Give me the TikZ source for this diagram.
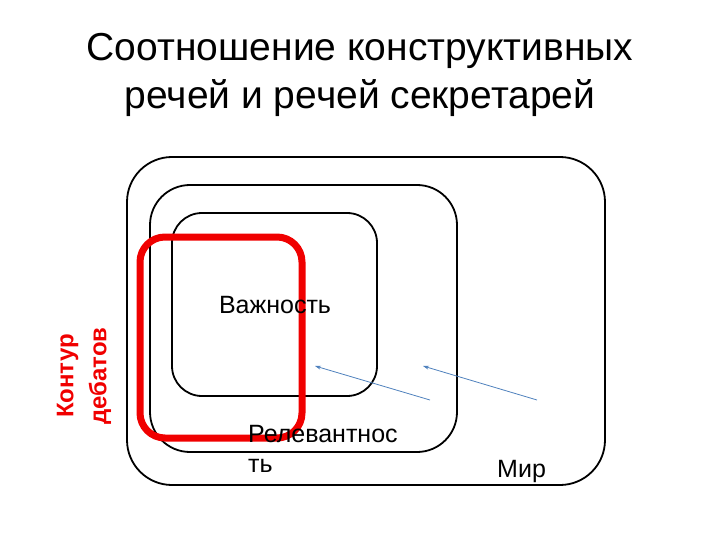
\documentclass[tikz,border=0pt]{standalone}
\usepackage{fontspec}
\setmainfont{Liberation Sans}
\usetikzlibrary{arrows.meta}
\begin{document}
\begin{tikzpicture}[x=1pt,y=-1pt,
  box/.style={draw=black, line width=1.8pt},
  arr/.style={draw={rgb,255:red,79;green,129;blue,189}, line width=0.8pt, -{Stealth[length=6pt,width=4pt]}},
  lbl/.style={font=\fontsize{25}{30}\selectfont, inner sep=0pt}]
\useasboundingbox (0,0) rectangle (720,540);
\node[font=\fontsize{39}{48}\selectfont, align=center] (title) at (360,75) {Соотношение конструктивных\\речей и речей секретарей};
\draw[box, rounded corners=45pt] (127,157) rectangle (605,485);
\draw[box, rounded corners=40pt] (150,185) rectangle (457,452);
\draw[box, rounded corners=30pt] (172,213) rectangle (377,396);
\draw[draw={rgb,255:red,240;green,0;blue,0}, line width=7pt, rounded corners=25pt] (140,237) rectangle (302,438);
\node[lbl] (imp) at (275,305) {Важность};
\node[lbl, anchor=base west, align=left] (rel) at (248,472) {Релевантнос\\ть};
\node[lbl, anchor=base west] (world) at (497,477) {Мир};
\node[font=\bfseries\fontsize{24}{33}\selectfont, text={rgb,255:red,240;green,0;blue,0}, rotate=90, align=center] (cont) at (84,376) {Контур\\дебатов};
\coordinate (a1s) at (430,400); \coordinate (a1e) at (315,366);
\coordinate (a2s) at (537,400); \coordinate (a2e) at (423,366);
\draw[arr] (a1s) -- (a1e);
\draw[arr] (a2s) -- (a2e);
\end{tikzpicture}
\end{document}
